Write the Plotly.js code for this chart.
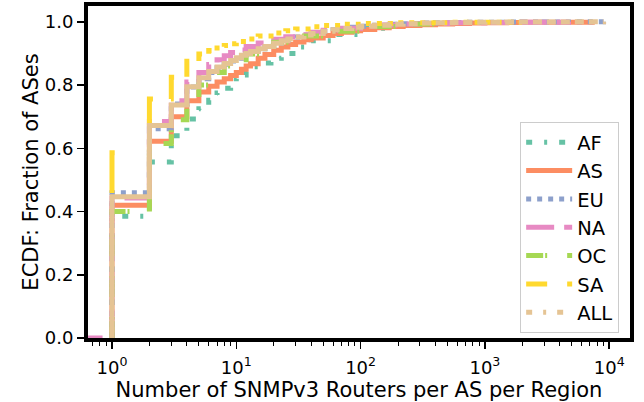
<!DOCTYPE html>
<html><head><meta charset="utf-8">
<script src="https://cdn.plot.ly/plotly-3.0.1.min.js"></script>
<style>html,body{margin:0;padding:0;background:#fff}#chart{width:644px;height:402px}</style>
</head><body><div id="chart"></div>
<script>
const regions = ['AF','AS','EU','NA','OC','SA','ALL'];
const colors = ['#66c2a5','#fc8d62','#8da0cb','#e78ac3','#a6d854','#ffd92f','#e5c494'];
// dash patterns seen in the legend
const legendDashes = ['6px,12px,3px,12px','solid','5px,6px','28px,10px','17px,2px,2px,20px','21px,20px','6px,11px,3px,11px'];
// dash patterns along the plotted curves
const plotDashes = legendDashes.slice();
plotDashes[5] = '0px,145px,43px,62px,30px,18px,25px,13px,18px,10px,10px,7px,6px,5.5px,' + Array(34).fill('5px,6px').join(',');
plotDashes[6] = '480px,5px,' + Array(40).fill('9px,5px').join(',');

const xAF = [1,1,2,3,4,5,6,7,8,9,10,11,12,14,16,19,23,30,40,60,100,150,230];
const yAF = [0,0.385,0.557,0.64,0.693,0.725,0.752,0.775,0.79,0.805,0.82,0.832,0.842,0.858,0.87,0.885,0.9,0.92,0.94,0.96,0.98,0.99,1.0];

const xAS = [1,1,2,3,4,5,6,7,8,9,10,11,12,13,15,17,20,23,26,30,35,40,50,60,70,85,100,130,170,220,300,400,550,750,1000,1500,2000,3000,7300];
const yAS = [0,0.42,0.622,0.70,0.75,0.778,0.796,0.81,0.82,0.83,0.84,0.85,0.86,0.867,0.885,0.897,0.91,0.92,0.928,0.936,0.943,0.949,0.957,0.963,0.967,0.972,0.976,0.981,0.985,0.988,0.991,0.993,0.995,0.996,0.997,0.998,0.9985,0.999,1.0];

const xEU = [1,1,2,3,4,5,6,7,8,9,10,11,12,13,15,17,20,23,26,30,35,40,50,60,70,85,100,130,170,220,300,400,550,750,1000,1500,2000,3000,5000,9000];
const yEU = [0,0.459,0.662,0.74,0.794,0.82,0.84,0.855,0.866,0.876,0.885,0.893,0.9,0.906,0.915,0.922,0.932,0.94,0.946,0.952,0.958,0.963,0.97,0.975,0.979,0.983,0.986,0.989,0.992,0.994,0.996,0.997,0.998,0.9985,0.999,0.9993,0.9995,0.9997,0.9999,1.0];

const xNA = [0.5,1,2,3,4,5,6,7,8,9,10,12,15,20,25,30,40,50,70,100,150,200,300,500,1000,2000,4700];
const yNA = [0,0.443,0.685,0.75,0.81,0.84,0.865,0.88,0.893,0.903,0.911,0.922,0.933,0.945,0.953,0.959,0.967,0.973,0.98,0.986,0.99,0.993,0.995,0.997,0.998,0.999,1.0];

const xOC = [1,1,2,3,4,5,6,7,8,9,10,12,16,20,30,50,100,200,500];
const yOC = [0,0.40,0.615,0.69,0.75,0.80,0.82,0.84,0.86,0.87,0.88,0.898,0.924,0.935,0.955,0.97,0.985,0.993,1.0];

const xSA = [1,1,2,3,4,5,6,7,8,9,10,12,15,20,25,30,40,50,70,100,200,500,1900];
const ySA = [0,0.586,0.756,0.825,0.875,0.898,0.909,0.917,0.925,0.931,0.938,0.946,0.955,0.965,0.972,0.977,0.984,0.988,0.992,0.995,0.997,0.999,1.0];

const xALL = [1,1,2,3,4,5,6,7,8,9,10,11,12,13,15,17,20,23,26,30,35,40,50,60,70,85,100,130,170,220,300,400,550,750,1000,1500,2000,3000,5000,9000];
const yALL = [0,0.447,0.672,0.737,0.795,0.823,0.843,0.857,0.868,0.878,0.886,0.894,0.9,0.906,0.915,0.922,0.932,0.94,0.946,0.952,0.958,0.963,0.97,0.975,0.979,0.983,0.986,0.989,0.992,0.994,0.996,0.997,0.998,0.9985,0.999,0.9993,0.9995,0.9997,0.9999,1.0];

const xTickVals = [1,10,100,1000,10000];
const xTickText = ['10<sup>0</sup>','10<sup>1</sup>','10<sup>2</sup>','10<sup>3</sup>','10<sup>4</sup>'];
const yTickVals = [0,0.2,0.4,0.6,0.8,1.0];

const xs = [xAF,xAS,xEU,xNA,xOC,xSA,xALL];
const ys = [yAF,yAS,yEU,yNA,yOC,ySA,yALL];

const minorVals = [];
for (let e = -1; e <= 3; e++) for (let m = 2; m <= 9; m++) minorVals.push(m * Math.pow(10, e));

const curveTraces = regions.map((r, i) => ({
  type: 'scatter', mode: 'lines', name: r, x: xs[i], y: ys[i],
  showlegend: false,
  line: {shape: 'hv', color: colors[i], width: 5, dash: plotDashes[i]},
  hoverinfo: 'skip'
}));
const legendTraces = regions.map((r, i) => ({
  type: 'scatter', mode: 'lines', name: r, x: [null], y: [null],
  showlegend: true,
  line: {color: colors[i], width: 5, dash: legendDashes[i]},
  hoverinfo: 'skip'
}));

const titleFont = {family: 'DejaVu Sans, sans-serif', size: 21, color: '#000'};
const legendFont = {family: 'DejaVu Sans, sans-serif', size: 19.5, color: '#000'};
const tickFont = {family: 'DejaVu Sans, sans-serif', size: 18, color: '#000'};
const layout = {
  width: 644, height: 402,
  margin: {l: 88, r: 14, t: 6, b: 64},
  paper_bgcolor: '#fff', plot_bgcolor: '#fff',
  font: tickFont,
  showlegend: true,
  legend: {x: 0.98, xanchor: 'right', y: 0.015, yanchor: 'bottom',
    bgcolor: 'rgba(255,255,255,0.8)', bordercolor: '#cccccc', borderwidth: 1,
    font: legendFont, traceorder: 'normal', itemwidth: 46},
  xaxis: {type: 'log', range: [-0.193, 4.167], tickvals: xTickVals, ticktext: xTickText,
    ticks: 'outside', ticklen: 7, tickwidth: 1.5, tickcolor: '#000',
    minor: {tickvals: minorVals, ticks: 'outside', ticklen: 4, tickwidth: 1, tickcolor: '#000'},
    showline: true, linewidth: 4, linecolor: '#000', mirror: true,
    showgrid: false, zeroline: false,
    tickfont: tickFont, ticklabelstandoff: 3,
    title: {text: 'Number of SNMPv3 Routers per AS per Region', font: titleFont, standoff: 7}},
  yaxis: {range: [0, 1.05], tickvals: yTickVals, tickformat: '.1f',
    ticks: 'outside', ticklen: 7, tickwidth: 1.5, tickcolor: '#000',
    showline: true, linewidth: 4, linecolor: '#000', mirror: true,
    showgrid: false, zeroline: false,
    tickfont: tickFont,
    title: {text: 'ECDF: Fraction of ASes', font: titleFont, standoff: 1}}
};
Plotly.newPlot('chart', curveTraces.concat(legendTraces), layout, {staticPlot: true, displayModeBar: false});
</script></body></html>
